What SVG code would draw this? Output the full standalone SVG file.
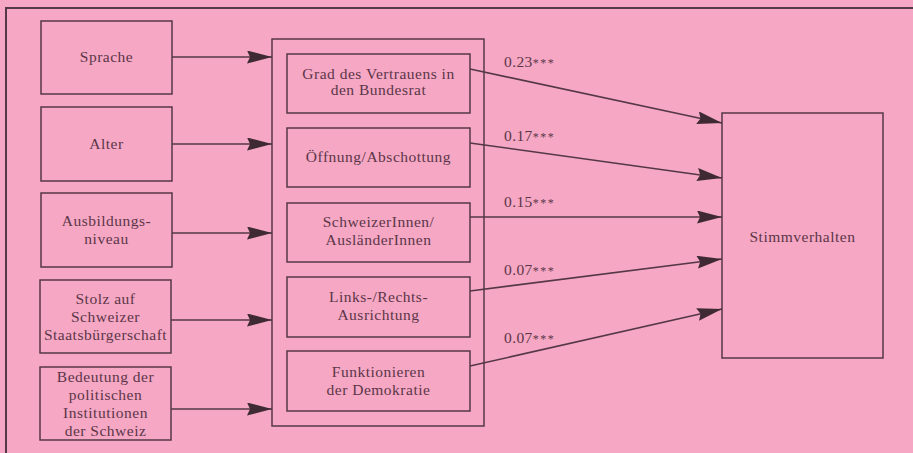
<svg xmlns="http://www.w3.org/2000/svg" width="913" height="453" viewBox="0 0 913 453">
<defs>
<style>
.box{fill:none;stroke:#553846;stroke-width:1.5}
.frame{fill:none;stroke:#553846;stroke-width:2}
.t{font-family:"Liberation Serif",serif;font-size:15.5px;letter-spacing:0.5px;fill:#5c3648;text-anchor:middle}
.n{font-family:"Liberation Serif",serif;font-size:15.5px;letter-spacing:0.4px;fill:#5c3648}
.ast{font-size:12px;letter-spacing:1.5px}
.c{fill:none;stroke:#553846;stroke-width:1.6;marker-end:url(#ah)}
</style>
<marker id="ah" markerUnits="userSpaceOnUse" markerWidth="26" markerHeight="14" refX="25" refY="6.5" orient="auto">
<path d="M0,0 L25,6.5 L0,13 L3,6.5 Z" fill="#3f2a33"/>
</marker>
</defs>
<rect x="0" y="0" width="913" height="453" fill="#F5A7C4"/>
<path class="frame" d="M6,453 L6,8 L913,8"/>

<g id="sprache"><rect class="box" x="41" y="21" width="131" height="73"/><text class="t" x="106.5" y="62">Sprache</text></g>
<g id="alter"><rect class="box" x="41" y="107" width="131" height="74"/><text class="t" x="106.5" y="149">Alter</text></g>
<g id="ausbildung"><rect class="box" x="41" y="193" width="131" height="74"/><text class="t" x="106.5" y="226">Ausbildungs-</text><text class="t" x="106.5" y="244">niveau</text></g>
<g id="stolz"><rect class="box" x="40" y="280" width="131" height="73"/><text class="t" x="105.5" y="304">Stolz auf</text><text class="t" x="105.5" y="322">Schweizer</text><text class="t" x="105.5" y="340">Staatsbürgerschaft</text></g>
<g id="bedeutung"><rect class="box" x="40" y="367" width="131" height="73"/><text class="t" x="105.5" y="382">Bedeutung der</text><text class="t" x="105.5" y="400">politischen</text><text class="t" x="105.5" y="418">Institutionen</text><text class="t" x="105.5" y="436">der Schweiz</text></g>

<g id="mittel"><rect class="box" x="272" y="39" width="212" height="387"/></g>
<g id="grad"><rect class="box" x="287" y="54" width="183" height="59"/><text class="t" x="378.5" y="79">Grad des Vertrauens in</text><text class="t" x="378.5" y="95">den Bundesrat</text></g>
<g id="oeffnung"><rect class="box" x="287" y="128" width="183" height="59"/><text class="t" x="378.5" y="162">Öffnung/Abschottung</text></g>
<g id="schweizer"><rect class="box" x="287" y="203" width="183" height="59"/><text class="t" x="378.5" y="227">SchweizerInnen/</text><text class="t" x="378.5" y="245">AusländerInnen</text></g>
<g id="links"><rect class="box" x="287" y="277" width="183" height="60"/><text class="t" x="378.5" y="302">Links-/Rechts-</text><text class="t" x="378.5" y="320">Ausrichtung</text></g>
<g id="demokratie"><rect class="box" x="287" y="351" width="183" height="60"/><text class="t" x="378.5" y="377">Funktionieren</text><text class="t" x="378.5" y="395">der Demokratie</text></g>

<g id="stimmverhalten"><rect class="box" x="722" y="113" width="161" height="245"/><text class="t" x="802.5" y="242">Stimmverhalten</text></g>

<g id="connectors">
<line class="c" x1="172" y1="57" x2="272" y2="57"/>
<line class="c" x1="172" y1="144" x2="272" y2="144"/>
<line class="c" x1="172" y1="233" x2="272" y2="233"/>
<line class="c" x1="171" y1="320" x2="272" y2="320"/>
<line class="c" x1="171" y1="409" x2="272" y2="409"/>
<line class="c" x1="470" y1="69" x2="722" y2="123"/>
<line class="c" x1="470" y1="143" x2="722" y2="178"/>
<line class="c" x1="470" y1="217" x2="722" y2="217"/>
<line class="c" x1="470" y1="291" x2="722" y2="259"/>
<line class="c" x1="470" y1="366" x2="722" y2="309"/>
<text class="n" x="504" y="67">0.23<tspan class="ast">***</tspan></text>
<text class="n" x="504" y="141">0.17<tspan class="ast">***</tspan></text>
<text class="n" x="504" y="207">0.15<tspan class="ast">***</tspan></text>
<text class="n" x="504" y="275">0.07<tspan class="ast">***</tspan></text>
<text class="n" x="504" y="343">0.07<tspan class="ast">***</tspan></text>
</g>
</svg>
